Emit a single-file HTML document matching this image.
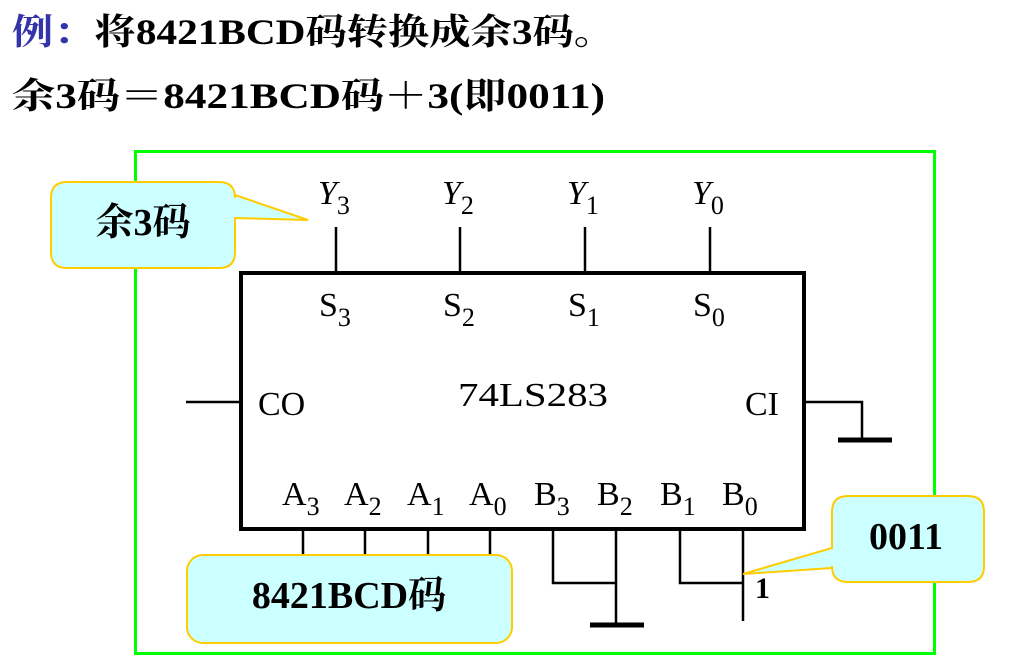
<!DOCTYPE html>
<html><head><meta charset="utf-8"><style>
html,body{margin:0;padding:0;background:#fff;}
svg{display:block;}
</style></head><body>
<svg width="1019" height="663" viewBox="0 0 1019 663" xmlns="http://www.w3.org/2000/svg" font-family="'Liberation Serif','Noto Serif CJK SC',serif">
<text x="12" y="44" font-size="36" font-weight="bold" textLength="603" lengthAdjust="spacingAndGlyphs"><tspan fill="#3333aa">例：</tspan>将8421BCD码转换成余3码。</text>
<text x="12" y="108" font-size="36" font-weight="bold" textLength="593" lengthAdjust="spacingAndGlyphs">余3码＝8421BCD码＋3(即0011)</text>

<rect x="135.5" y="151.5" width="799" height="502" fill="none" stroke="#00ff00" stroke-width="3"/>

<g stroke="#000" stroke-width="2.5" fill="none">
<line x1="336" y1="227" x2="336" y2="272"/>
<line x1="460" y1="227" x2="460" y2="272"/>
<line x1="585" y1="227" x2="585" y2="272"/>
<line x1="710" y1="227" x2="710" y2="272"/>
<line x1="186" y1="402" x2="240" y2="402"/>
<polyline points="805,402 862,402 862,440"/>
<line x1="303" y1="530" x2="303" y2="556"/>
<line x1="365" y1="530" x2="365" y2="556"/>
<line x1="428" y1="530" x2="428" y2="556"/>
<line x1="490" y1="530" x2="490" y2="556"/>
<polyline points="553,530 553,583 616,583"/>
<line x1="616" y1="530" x2="616" y2="625"/>
<polyline points="680,530 680,583 743,583"/>
<line x1="743" y1="530" x2="743" y2="621"/>
</g>
<line x1="838" y1="440" x2="892" y2="440" stroke="#000" stroke-width="5"/>
<line x1="590" y1="625" x2="644" y2="625" stroke="#000" stroke-width="5"/>
<rect x="241" y="273" width="563" height="256" fill="none" stroke="#000" stroke-width="4"/>

<g font-size="34" fill="#000">
<text x="318" y="204" font-style="italic">Y<tspan font-style="normal" font-size="26" dy="10">3</tspan></text>
<text x="442" y="204" font-style="italic">Y<tspan font-style="normal" font-size="26" dy="10">2</tspan></text>
<text x="567" y="204" font-style="italic">Y<tspan font-style="normal" font-size="26" dy="10">1</tspan></text>
<text x="692" y="204" font-style="italic">Y<tspan font-style="normal" font-size="26" dy="10">0</tspan></text>
<text x="319" y="316">S<tspan font-size="26" dy="10">3</tspan></text>
<text x="443" y="316">S<tspan font-size="26" dy="10">2</tspan></text>
<text x="568" y="316">S<tspan font-size="26" dy="10">1</tspan></text>
<text x="693" y="316">S<tspan font-size="26" dy="10">0</tspan></text>
<text x="458" y="406" textLength="150" lengthAdjust="spacingAndGlyphs">74LS283</text>
<text x="258" y="415">CO</text>
<text x="745" y="415">CI</text>
<text x="282" y="505">A<tspan font-size="26" dy="10">3</tspan></text>
<text x="344" y="505">A<tspan font-size="26" dy="10">2</tspan></text>
<text x="407" y="505">A<tspan font-size="26" dy="10">1</tspan></text>
<text x="469" y="505">A<tspan font-size="26" dy="10">0</tspan></text>
<text x="534" y="505">B<tspan font-size="26" dy="10">3</tspan></text>
<text x="597" y="505">B<tspan font-size="26" dy="10">2</tspan></text>
<text x="660" y="505">B<tspan font-size="26" dy="10">1</tspan></text>
<text x="722" y="505">B<tspan font-size="26" dy="10">0</tspan></text>
<text x="755" y="598" font-weight="bold" font-size="30">1</text>
</g>

<g fill="#ccffff" stroke="#ffcc00" stroke-width="2">
<path d="M67,182 H219 Q235,182 235,198 V195 L308,220 L235,218 V252 Q235,268 219,268 H67 Q51,268 51,252 V198 Q51,182 67,182 Z"/>
<rect x="187" y="555" width="325" height="88" rx="16"/>
<path d="M848,496 H968 Q984,496 984,512 V566 Q984,582 968,582 H848 Q832,582 832,566 V568 L743,574 L832,548 V512 Q832,496 848,496 Z"/>
</g>
<g font-weight="bold" fill="#000" text-anchor="middle">
<text x="143" y="235" font-size="38">余3码</text>
<text x="349" y="608" font-size="38">8421BCD码</text>
<text x="906" y="549" font-size="38">0011</text>
</g>
</svg>
</body></html>
